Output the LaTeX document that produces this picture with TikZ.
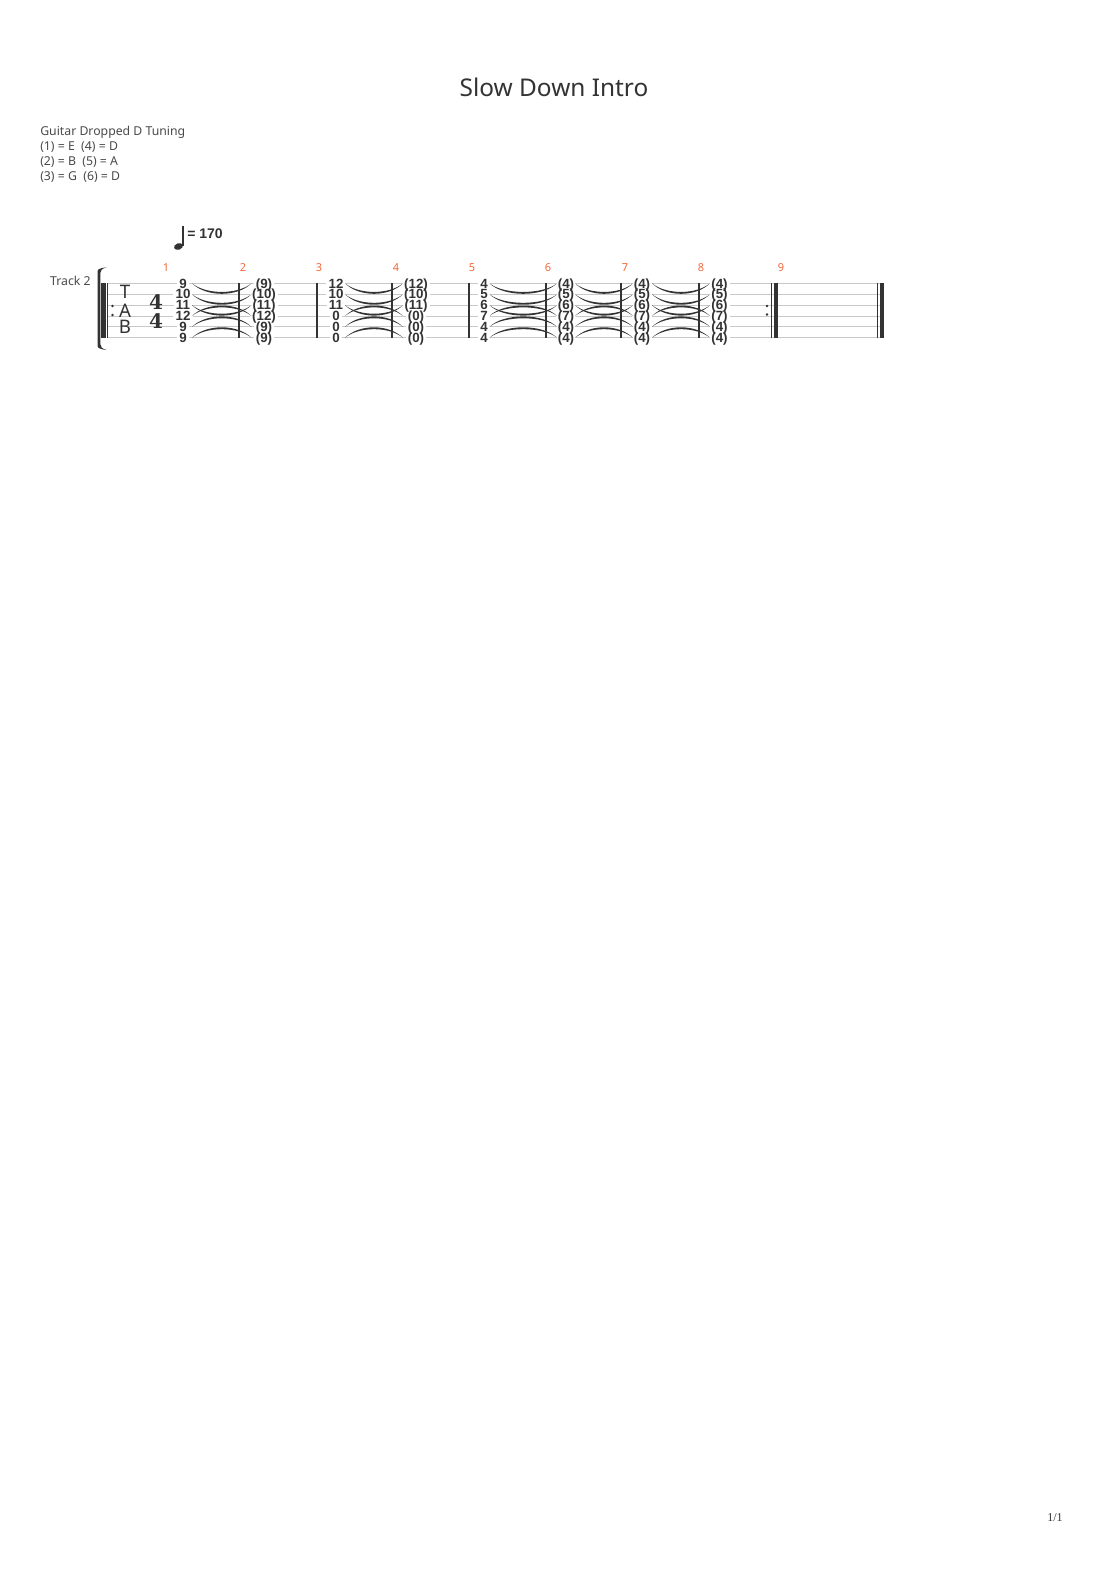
\documentclass[tikz,border=0pt]{standalone}
\usepackage{fontspec}
\setmainfont{Noto Sans}
\newfontfamily\tabnum{Liberation Sans}
\newfontfamily\pgserif{Liberation Serif}
\newfontfamily\tsfont{DejaVu Serif}
\usetikzlibrary{calc,backgrounds}
\definecolor{ink}{HTML}{333333}
\definecolor{soft}{HTML}{4A4A4A}
\definecolor{staffgray}{HTML}{C8C8C8}
\definecolor{meascol}{HTML}{F4693C}
\tikzset{
  staffline/.style={draw=staffgray, line width=0.75pt},
  barline/.style={draw=ink, line width=0.9pt},
  fret/.style={font=\tabnum\bfseries\fontsize{10}{10}\selectfont, text=ink, inner sep=0pt, text height=7.16pt, text depth=0pt},
  tiefill/.style={fill=ink, draw=none},
  measnum/.style={font=\fontsize{8.25}{10}\selectfont, text=meascol, inner sep=0pt},
  infotext/.style={font=\fontsize{9.2}{11}\selectfont, text=soft, anchor=west, inner sep=0pt},
  clefletter/.style={font=\fontsize{14}{14}\selectfont, text=ink, inner sep=0pt},
  timesig/.style={font=\tsfont\bfseries\fontsize{15}{15}\selectfont, text=ink, inner sep=0pt, text height=10.9pt, text depth=0pt},
}
\begin{document}
\begin{tikzpicture}[x=0.75pt,y=-0.75pt]
\useasboundingbox (0,0) rectangle (1110,1570);
\begin{pgfonlayer}{background}
  \fill[white] (0,0) rectangle (1110,1570);
  \foreach \y in {283.3,294.2,305.1,316.0,326.9,337.8}
    \draw[staffline] (107.7,\y) -- (884,\y);
\end{pgfonlayer}

% title and info
\node[font=\fontsize{18.3}{21}\selectfont, text=ink] (title) at (554,87) {Slow Down Intro};
\node[infotext] (tun0) at (40,132) {Guitar Dropped D Tuning};
\node[infotext] (tun1) at (40,147) {(1) = E\ \ (4) = D};
\node[infotext] (tun2) at (40,162) {(2) = B\ \ (5) = A};
\node[infotext] (tun3) at (40,177) {(3) = G\ \ (6) = D};
\node[font=\fontsize{9.2}{11}\selectfont, text=soft, anchor=east, inner sep=0pt] (track) at (91,281) {Track 2};
\node[font=\pgserif\fontsize{9}{11}\selectfont, text=ink, inner sep=0pt] (page) at (1055,1518) {1/1};

% tempo
\fill[ink, rotate around={20:(178.5,246.5)}] (178.5,246.5) ellipse (4.6 and 3.2);
\draw[ink, line width=0.9pt] (182.9,245.5) -- (182.9,226);
\node[font=\tabnum\bfseries\fontsize{10.5}{12}\selectfont, text=ink, anchor=west, inner sep=0pt] (tempo) at (187,233.5) {= 170};

% bracket
\fill[ink] (97.6,346) -- (97.6,271) .. controls (97.6,269) and (101,268) .. (106.5,267.3)
  .. controls (102,268.8) and (100.3,270) .. (100.3,273) -- (100.3,344)
  .. controls (100.3,347) and (102,348.5) .. (106.5,350)
  .. controls (101,349.3) and (97.6,348.3) .. (97.6,346) -- cycle;

% start repeat
\fill[ink] (101,283.3) rectangle (105.5,337.8);
\draw[barline, line width=0.75pt] (107.7,283.3) -- (107.7,337.8);
\fill[ink] (112.5,306) circle (1.3);
\fill[ink] (112.5,315) circle (1.3);

% TAB clef and time signature
\node[clefletter] (clefT) at (125,292) {T};
\node[clefletter] (clefA) at (125,310.5) {A};
\node[clefletter] (clefB) at (125,327) {B};
\node[timesig] (ts1) at (156,302.5) {4};
\node[timesig] (ts2) at (156,320.8) {4};

% barlines
\foreach \bx in {239,317,392,469,546,621,699}
  \draw[barline] (\bx,283.3) -- (\bx,337.8);
% end repeat
\fill[ink] (767,306) circle (1.3);
\fill[ink] (767,314.5) circle (1.3);
\draw[barline, line width=0.75pt] (771,283.3) -- (771,337.8);
\fill[ink] (774.3,283.3) rectangle (778.3,337.8);
% final
\draw[barline, line width=0.75pt] (877,283.3) -- (877,337.8);
\fill[ink] (880,283.3) rectangle (884,337.8);

% measure numbers
\foreach \m/\mx in {1/166,2/243,3/319,4/396,5/472,6/548,7/625,8/701,9/781}
  \node[measnum] (meas\m) at (\mx,267.3) {\m};

% frets
\foreach \c/\cx/\lst in {
  1/183/{9,10,11,12,9,9},
  2/264/{(9),(10),(11),(12),(9),(9)},
  3/336/{12,10,11,0,0,0},
  4/416/{(12),(10),(11),(0),(0),(0)},
  5/484/{4,5,6,7,4,4},
  6/566/{(4),(5),(6),(7),(4),(4)},
  7/642/{(4),(5),(6),(7),(4),(4)},
  8/719.5/{(4),(5),(6),(7),(4),(4)}} {
  \foreach \t [count=\s] in \lst {
    \pgfmathsetmacro{\sy}{283.3+10.9*(\s-1)}
    \node[fret] (n-\c-\s) at (\cx,\sy) {\t};
    \begin{pgfonlayer}{background}
      \fill[white] ($(n-\c-\s.west)+(-2,-3.8)$) rectangle ($(n-\c-\s.east)+(2,3.8)$);
    \end{pgfonlayer}
  }
}

% ties
\foreach \a/\b/\so/\eo in {1/2/9/12.5, 3/4/9/13, 5/6/5.5/9, 6/7/9/9, 7/8/10/9.5} {
  \foreach \s/\dir in {1/1,2/1,3/1,4/-1,5/-1,6/-1} {
    \path[tiefill] ($(n-\a-\s)+(\so,0)$) .. controls +(14,{14*(\dir)}) and +(-14,{14*(\dir)}) .. ($(n-\b-\s)+(-\eo,0)$)
      .. controls +(-14,{11.5*(\dir)}) and +(14,{11.5*(\dir)}) .. ($(n-\a-\s)+(\so,0)$);
  }
}
\end{tikzpicture}
\end{document}
